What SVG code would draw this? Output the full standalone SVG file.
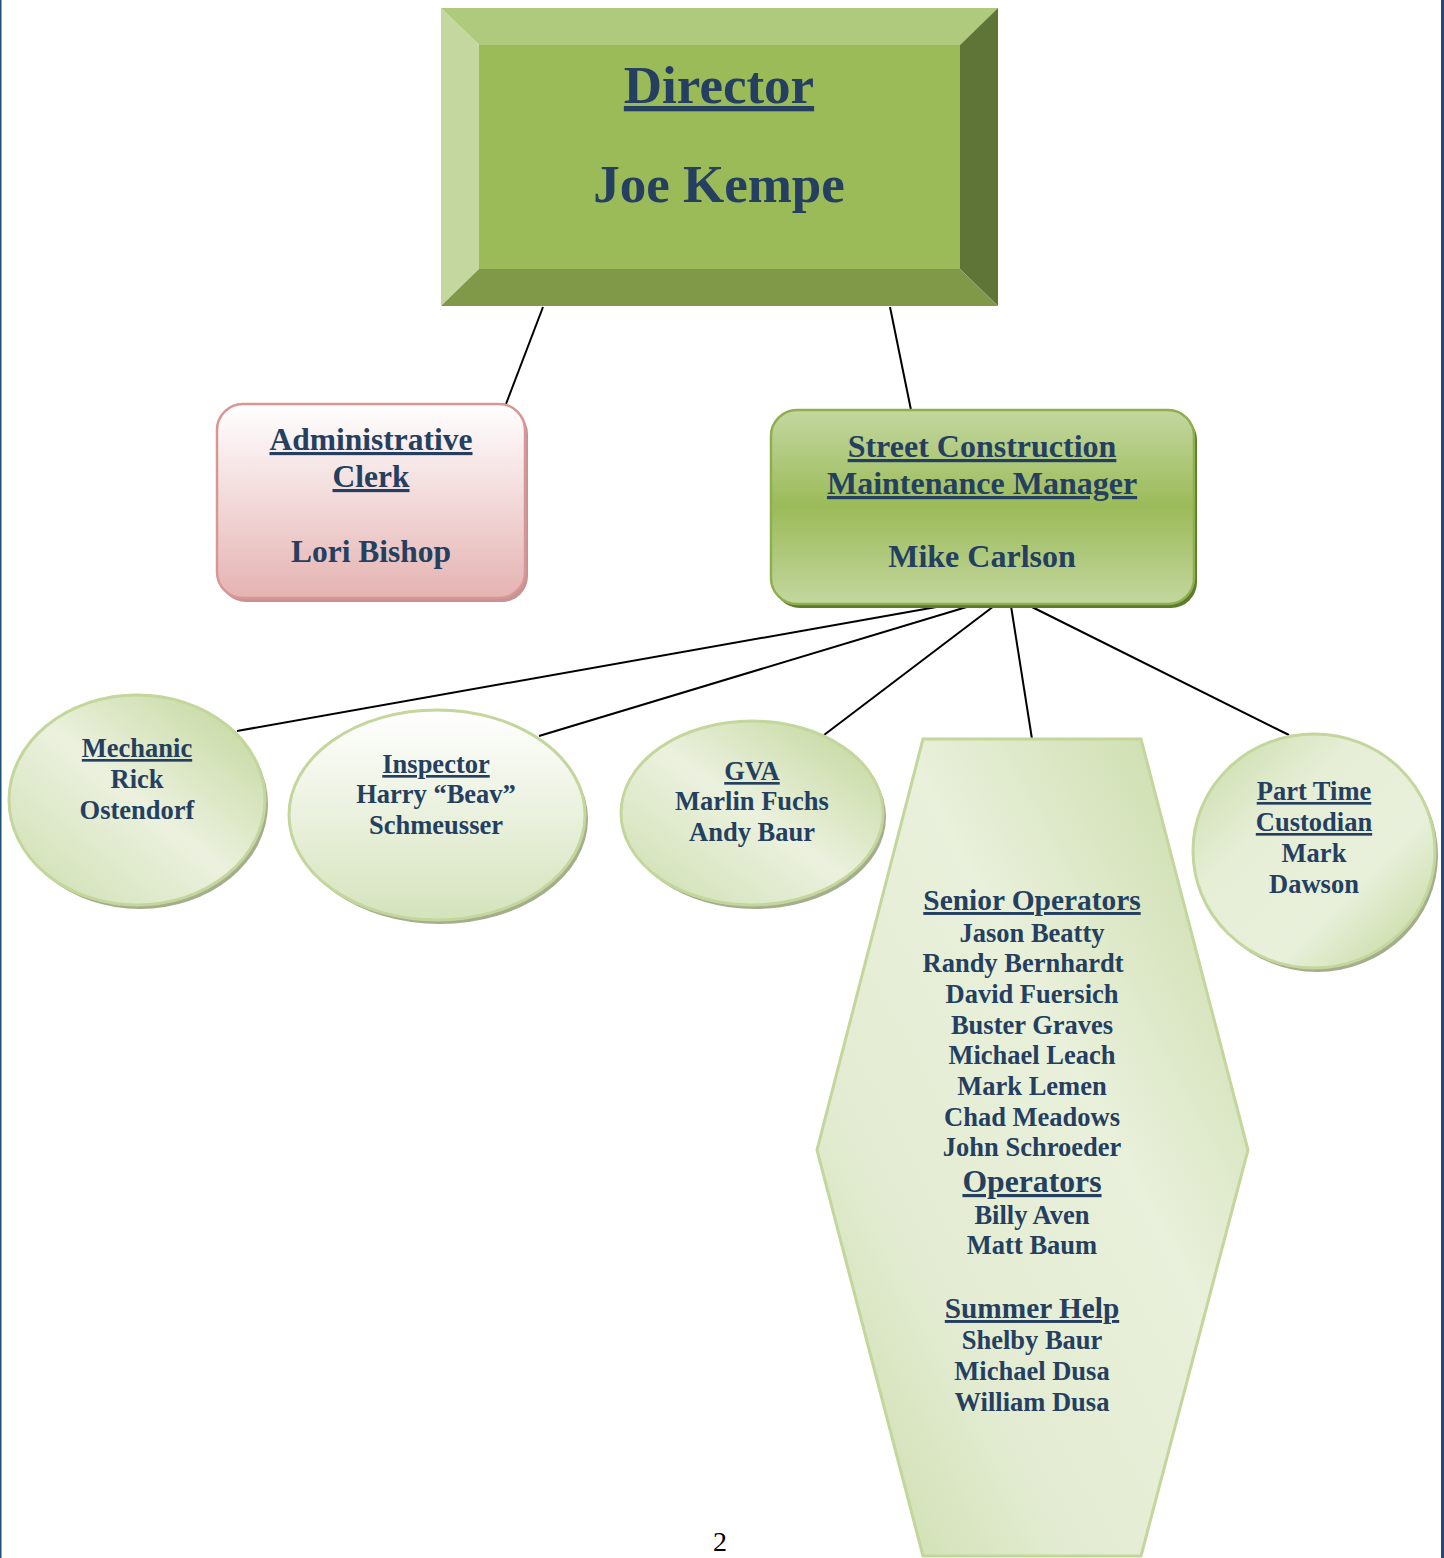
<svg xmlns="http://www.w3.org/2000/svg" width="1444" height="1558" viewBox="0 0 1444 1558">
<defs>
<linearGradient id="gPink" x1="0" y1="0" x2="0" y2="1">
<stop offset="0" stop-color="#FFFFFF"/>
<stop offset="0.5" stop-color="#F2D9D9"/>
<stop offset="1" stop-color="#E5B3B2"/>
</linearGradient>
<linearGradient id="gMgr" x1="0" y1="0" x2="0" y2="1">
<stop offset="0" stop-color="#C3D79F"/>
<stop offset="0.5" stop-color="#9BBB59"/>
<stop offset="1" stop-color="#C3D79F"/>
</linearGradient>
<linearGradient id="gEll" x1="0.9" y1="0.1" x2="0.1" y2="0.9">
<stop offset="0" stop-color="#C8DAA4"/>
<stop offset="0.5" stop-color="#EBF1DE"/>
<stop offset="1" stop-color="#D3E2B8"/>
</linearGradient>
<linearGradient id="gEll2" x1="0.1" y1="0.1" x2="0.9" y2="0.9">
<stop offset="0" stop-color="#D0E0B3"/>
<stop offset="0.3" stop-color="#E6EED6"/>
<stop offset="0.7" stop-color="#E8F0DB"/>
<stop offset="1" stop-color="#CCDDAA"/>
</linearGradient>
<linearGradient id="gInsp" x1="0" y1="0" x2="0" y2="1">
<stop offset="0" stop-color="#FFFFFF"/>
<stop offset="1" stop-color="#D5E3BC"/>
</linearGradient>
<linearGradient id="gHex" x1="1" y1="0" x2="0" y2="1">
<stop offset="0" stop-color="#C6D9A2"/>
<stop offset="0.4" stop-color="#E9F0DB"/>
<stop offset="0.7" stop-color="#E3ECD2"/>
<stop offset="1" stop-color="#C9DBA6"/>
</linearGradient>
<style>
.t{font-family:"Liberation Serif","Times New Roman",serif;font-weight:bold;fill:#243F60;text-anchor:middle}
.u{text-decoration:underline}
.s26{font-size:26.5px}
.s31{font-size:31.5px}
.con{stroke:#000;stroke-width:2;fill:none}
.ell{stroke:#C3D69B;stroke-width:3}
.sh{fill:#A4AE8C}
</style>
</defs>
<rect x="0" y="0" width="1444" height="1558" fill="#FFFFFF"/>
<rect x="0" y="0" width="1.5" height="1558" fill="#1F4E79"/>
<rect x="1441" y="0" width="3" height="1558" fill="#244A7A"/>

<g id="connectors">
<line class="con" x1="543" y1="307" x2="506" y2="404"/>
<line class="con" x1="890" y1="307" x2="911" y2="410"/>
<line class="con" x1="942" y1="606" x2="237" y2="731"/>
<line class="con" x1="970" y1="606" x2="539" y2="736"/>
<line class="con" x1="994" y1="606" x2="824" y2="735"/>
<line class="con" x1="1011" y1="606" x2="1032" y2="739"/>
<line class="con" x1="1030" y1="606" x2="1289" y2="735"/>
</g>

<g id="director">
<rect x="479" y="45" width="481" height="224" fill="#9BBB59"/>
<polygon points="441,8 998,8 960,45 479,45" fill="#AFCA7C"/>
<polygon points="441,8 479,45 479,269 441,306" fill="#C3D79F"/>
<polygon points="998,8 998,306 960,269 960,45" fill="#5F7537"/>
<polygon points="441,306 998,306 960,269 479,269" fill="#7F9949"/>
<text class="t u" x="719" y="103" font-size="53">Director</text>
<text class="t" x="719" y="202" font-size="53">Joe Kempe</text>
</g>

<g id="admin-clerk">
<rect x="220" y="408" width="308" height="194" rx="26" fill="#C59393"/>
<rect x="217" y="404" width="308" height="194" rx="26" fill="url(#gPink)" stroke="#D99694" stroke-width="2.5"/>
<text class="t u s31" x="371" y="450">Administrative</text>
<text class="t u s31" x="371" y="487">Clerk</text>
<text class="t s31" x="371" y="562">Lori Bishop</text>
</g>

<g id="manager">
<rect x="774" y="414" width="423" height="194" rx="26" fill="#5E7A2C"/>
<rect x="771" y="410" width="423" height="194" rx="26" fill="url(#gMgr)" stroke="#8FAF4E" stroke-width="2.5"/>
<text class="t u" x="982" y="457" font-size="32">Street Construction</text>
<text class="t u" x="982" y="494" font-size="32">Maintenance Manager</text>
<text class="t" x="982" y="567" font-size="32">Mike Carlson</text>
</g>

<g id="mechanic">
<ellipse class="sh" cx="140" cy="804" rx="128" ry="105"/>
<ellipse class="ell" cx="137" cy="800" rx="128" ry="105" fill="url(#gEll)"/>
<text class="t u s26" x="137" y="757">Mechanic</text>
<text class="t s26" x="137" y="788">Rick</text>
<text class="t s26" x="137" y="819">Ostendorf</text>
</g>

<g id="inspector">
<ellipse class="sh" cx="440" cy="819" rx="148" ry="105"/>
<ellipse class="ell" cx="437" cy="815" rx="148" ry="105" fill="url(#gInsp)"/>
<text class="t u s26" x="436" y="773">Inspector</text>
<text class="t s26" x="436" y="803">Harry “Beav”</text>
<text class="t s26" x="436" y="834">Schmeusser</text>
</g>

<g id="gva">
<ellipse class="sh" cx="755" cy="817" rx="131" ry="92"/>
<ellipse class="ell" cx="752" cy="813" rx="131" ry="92" fill="url(#gEll)"/>
<text class="t u s26" x="752" y="780">GVA</text>
<text class="t s26" x="752" y="810">Marlin Fuchs</text>
<text class="t s26" x="752" y="841">Andy Baur</text>
</g>

<g id="operators">
<polygon points="923,739 1141,739 1248,1150 1141,1556 923,1556 817,1150" fill="url(#gHex)" stroke="#C3D69B" stroke-width="3"/>
<text class="t u" x="1032" y="910" font-size="29.4">Senior Operators</text>
<text class="t s26" x="1032" y="942">Jason Beatty</text>
<text class="t s26" x="1023" y="972">Randy Bernhardt</text>
<text class="t s26" x="1032" y="1003">David Fuersich</text>
<text class="t s26" x="1032" y="1034">Buster Graves</text>
<text class="t s26" x="1032" y="1064">Michael Leach</text>
<text class="t s26" x="1032" y="1095">Mark Lemen</text>
<text class="t s26" x="1032" y="1126">Chad Meadows</text>
<text class="t s26" x="1032" y="1156">John Schroeder</text>
<text class="t u" x="1032" y="1192" font-size="31.7">Operators</text>
<text class="t s26" x="1032" y="1224">Billy Aven</text>
<text class="t s26" x="1032" y="1254">Matt Baum</text>
<text class="t u" x="1032" y="1318" font-size="29.3">Summer Help</text>
<text class="t s26" x="1032" y="1349">Shelby Baur</text>
<text class="t s26" x="1032" y="1380">Michael Dusa</text>
<text class="t s26" x="1032" y="1411">William Dusa</text>
</g>

<g id="custodian">
<ellipse class="sh" cx="1317" cy="855" rx="121" ry="117"/>
<ellipse class="ell" cx="1314" cy="851" rx="121" ry="117" fill="url(#gEll2)"/>
<text class="t u s26" x="1314" y="800">Part Time</text>
<text class="t u s26" x="1314" y="831">Custodian</text>
<text class="t s26" x="1314" y="862">Mark</text>
<text class="t s26" x="1314" y="893">Dawson</text>
</g>

<text x="720" y="1551" font-family="'Liberation Serif','Times New Roman',serif" font-size="28" text-anchor="middle" fill="#000">2</text>
</svg>
